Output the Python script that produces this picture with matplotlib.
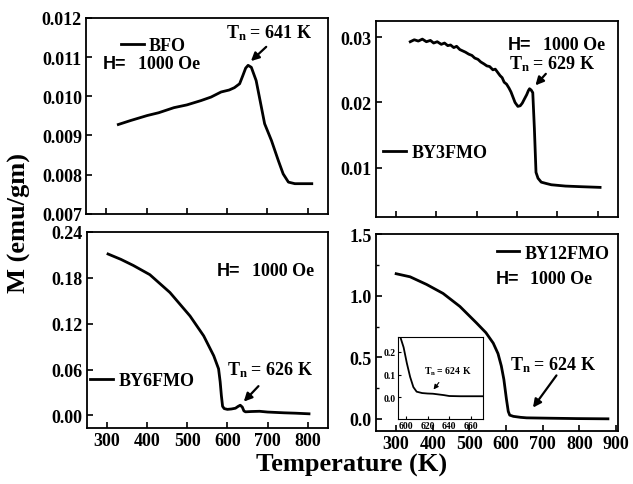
import numpy as np
import matplotlib.pyplot as plt
from matplotlib.ticker import MultipleLocator

plt.rcParams['font.family'] = ['Liberation Serif', 'DejaVu Serif']
plt.rcParams['font.weight'] = 'bold'
plt.rcParams['mathtext.fontset'] = 'custom'
plt.rcParams['mathtext.rm'] = 'Liberation Serif:bold'
plt.rcParams['mathtext.it'] = 'Liberation Serif:bold'
plt.rcParams['mathtext.bf'] = 'Liberation Serif:bold'

# BFO
bfo_T = [330, 360, 402, 430, 468, 500, 535, 560, 585, 605, 618, 631, 639, 646, 652, 660,
         672, 685, 693, 710, 727, 739, 752, 768, 810]
bfo_M = [0.00928, 0.00938, 0.00951, 0.00958, 0.00971, 0.00978, 0.00989, 0.00998, 0.01011,
         0.01016, 0.01022, 0.01032, 0.01053, 0.01072, 0.01079, 0.01074,
         0.0104, 0.00972, 0.0093, 0.00887, 0.00836, 0.00802, 0.00781, 0.00777, 0.00777]

# BY3FMO
by3_T = [335, 345, 355, 365, 375, 385, 393, 402, 412, 420, 428, 435, 443, 450, 458, 465,
         472, 480, 488, 495, 503, 510, 518, 525, 532, 540, 546, 552, 558, 563, 568, 574,
         580, 585, 590, 595, 602, 608, 613, 618, 624, 628, 631, 635, 639, 643, 647, 652,
         660, 672, 685, 720, 760, 806]
by3_M = [0.0293, 0.0296, 0.0294, 0.0297, 0.0293, 0.0295, 0.0291, 0.0293, 0.0289, 0.0291,
         0.0287, 0.0288, 0.0284, 0.0286, 0.0281, 0.0279, 0.0277, 0.0274, 0.0272, 0.0268,
         0.0266, 0.0262, 0.0259, 0.0256, 0.0255, 0.0250, 0.0251, 0.0246, 0.0241, 0.0238,
         0.0231, 0.0228, 0.0222, 0.0216, 0.0208, 0.0200, 0.0194, 0.0195, 0.0199, 0.0205,
         0.0212, 0.0218, 0.0221, 0.0219, 0.0215, 0.0160, 0.0093, 0.0084, 0.0078, 0.0076,
         0.0074, 0.0072, 0.0071, 0.0070]

# BY6FMO
by6_T = [303, 335, 366, 407, 457, 507, 541, 566, 578, 582, 585, 588, 592, 600, 610, 620,
         627, 632, 637, 641, 645, 660, 680, 700, 741, 770, 803]
by6_M = [0.211, 0.204, 0.196, 0.184, 0.1607, 0.130, 0.104, 0.078, 0.061, 0.044, 0.026,
         0.012, 0.009, 0.008, 0.0085, 0.0095, 0.012, 0.0134, 0.011, 0.006, 0.0048, 0.0052,
         0.0055, 0.0045, 0.0035, 0.003, 0.0022]

# BY12FMO
by12_T = [300, 338, 383, 428, 474, 519, 545, 565, 578, 587, 594, 601, 606, 610, 620, 640,
          656, 720, 792, 878]
by12_M = [1.179, 1.154, 1.092, 1.019, 0.913, 0.78, 0.70, 0.615, 0.53, 0.43, 0.32, 0.16,
          0.06, 0.03, 0.02, 0.012, 0.008, 0.005, 0.002, 0.0]

# inset of BY12FMO near T_N
ins_T = [595, 598, 601, 604, 607, 610, 615, 620, 625, 630, 635, 640, 650, 671]
ins_M = [0.265, 0.22, 0.15, 0.09, 0.045, 0.025, 0.019, 0.017, 0.016, 0.013, 0.010, 0.006,
         0.005, 0.005]

temp_ticks = [300, 400, 500, 600, 700, 800]
temp_ticks_wide = [300, 400, 500, 600, 700, 800, 900]

lw = 2.0
fs = 13

fig = plt.figure(figsize=(6.33, 4.85), dpi=100)
ax1 = fig.add_axes([0.136, 0.557, 0.382, 0.404])
ax2 = fig.add_axes([0.594, 0.551, 0.382, 0.404])
ax3 = fig.add_axes([0.137, 0.116, 0.381, 0.404])
ax4 = fig.add_axes([0.594, 0.109, 0.382, 0.406])
ins = fig.add_axes([0.629, 0.134, 0.134, 0.169])

for ax in (ax1, ax2, ax3, ax4, ins):
    for s in ax.spines.values():
        s.set_linewidth(1.3)
    ax.tick_params(direction='in', length=4, width=1.2, labelsize=fs, pad=3)
    ax.tick_params(which='minor', direction='in', length=2.5, width=1.0)


def legend_key(ax, line, label, x, y):
    ax.legend([line], [label], loc='center left', bbox_to_anchor=(x, y), frameon=False,
              handlelength=1.25, handletextpad=0.3, borderpad=0, borderaxespad=0,
              prop={'size': fs, 'weight': 'bold'})


def field_text(ax, x, y):
    ax.text(x, y, 'H=', transform=ax.transAxes, fontsize=fs, fontweight='bold',
            family='Liberation Sans', va='center')
    ax.annotate('1000 Oe', xy=(x, y), xycoords='axes fraction', xytext=(25, 0),
                textcoords='offset points', fontsize=fs, fontweight='bold', va='center')


arrow = dict(arrowstyle='-|>', lw=1.6, color='black', mutation_scale=12)

# panel 1: BFO
l1, = ax1.plot(bfo_T, bfo_M, color='black', lw=lw)
ax1.set_xlim(250, 850)
ax1.set_ylim(0.007, 0.012)
ax1.set_xticks(temp_ticks)
ax1.set_xticklabels([])
ax1.set_yticks([0.007, 0.008, 0.009, 0.010, 0.011, 0.012])
ax1.set_yticklabels(['0.007', '0.008', '0.009', '0.010', '0.011', '0.012'])
legend_key(ax1, l1, 'BFO', 0.145, 0.857)
field_text(ax1, 0.07, 0.765)
ax1.text(705, 0.01164, r'$T_n$ = 641 K', fontsize=fs, ha='center', va='center')
ax1.annotate('', xy=(654, 0.01085), xytext=(702, 0.01131), arrowprops=arrow)

# panel 2: BY3FMO
l2, = ax2.plot(by3_T, by3_M, color='black', lw=lw)
ax2.set_xlim(250, 850)
ax2.set_ylim(0.0025, 0.0325)
ax2.set_xticks(temp_ticks)
ax2.set_xticklabels([])
ax2.set_yticks([0.01, 0.02, 0.03])
ax2.set_yticklabels(['0.01', '0.02', '0.03'])
legend_key(ax2, l2, 'BY3FMO', 0.03, 0.327)
field_text(ax2, 0.545, 0.878)
ax2.text(0.55, 0.785, r'$T_n$ = 629 K', transform=ax2.transAxes, fontsize=fs,
         ha='left', va='center')
ax2.annotate('', xy=(641, 0.0223), xytext=(676, 0.0247), arrowprops=arrow)

# panel 3: BY6FMO
l3, = ax3.plot(by6_T, by6_M, color='black', lw=lw)
ax3.set_xlim(250, 850)
ax3.set_ylim(-0.016, 0.24)
ax3.set_xticks(temp_ticks)
ax3.set_yticks([0.0, 0.06, 0.12, 0.18, 0.24])
ax3.set_yticklabels(['0.00', '0.06', '0.12', '0.18', '0.24'])
legend_key(ax3, l3, 'BY6FMO', 0.015, 0.24)
field_text(ax3, 0.54, 0.80)
ax3.text(707, 0.061, r'$T_n$ = 626 K', fontsize=fs, ha='center', va='center')
ax3.annotate('', xy=(636, 0.0155), xytext=(682, 0.041), arrowprops=arrow)

# panel 4: BY12FMO
l4, = ax4.plot(by12_T, by12_M, color='black', lw=lw)
ax4.set_xlim(245, 905)
ax4.set_ylim(-0.1, 1.5)
ax4.set_xticks(temp_ticks_wide)
ax4.set_yticks([0.0, 0.5, 1.0, 1.5])
ax4.yaxis.set_minor_locator(MultipleLocator(0.25))
legend_key(ax4, l4, 'BY12FMO', 0.50, 0.904)
field_text(ax4, 0.495, 0.777)
ax4.text(727, 0.447, r'$T_n$ = 624 K', fontsize=fs, ha='center', va='center')
ax4.annotate('', xy=(669, 0.073), xytext=(742, 0.371), arrowprops=arrow)

# inset
ins.plot(ins_T, ins_M, color='black', lw=1.3)
ins.set_xlim(593, 671)
ins.set_ylim(-0.095, 0.265)
ins.set_xticks([600, 620, 640, 660])
ins.set_yticks([0.0, 0.1, 0.2])
ins.tick_params(labelsize=7, length=2, width=0.8, pad=1.5)
for s in ins.spines.values():
    s.set_linewidth(0.8)
ins.text(639, 0.118, r'$T_n$ = 624 K', fontsize=7, ha='center', va='center')
ins.annotate('', xy=(624, 0.025), xytext=(632, 0.075),
             arrowprops=dict(arrowstyle='-|>', lw=0.8, color='black', mutation_scale=7))

fig.text(0.555, 0.04, 'Temperature (K)', fontsize=19, fontweight='bold',
         ha='center', va='center')
fig.text(0.03, 0.54, 'M (emu/gm)', fontsize=19, fontweight='bold', rotation=90,
         ha='center', va='center')

fig.savefig('out.png', dpi=100)
